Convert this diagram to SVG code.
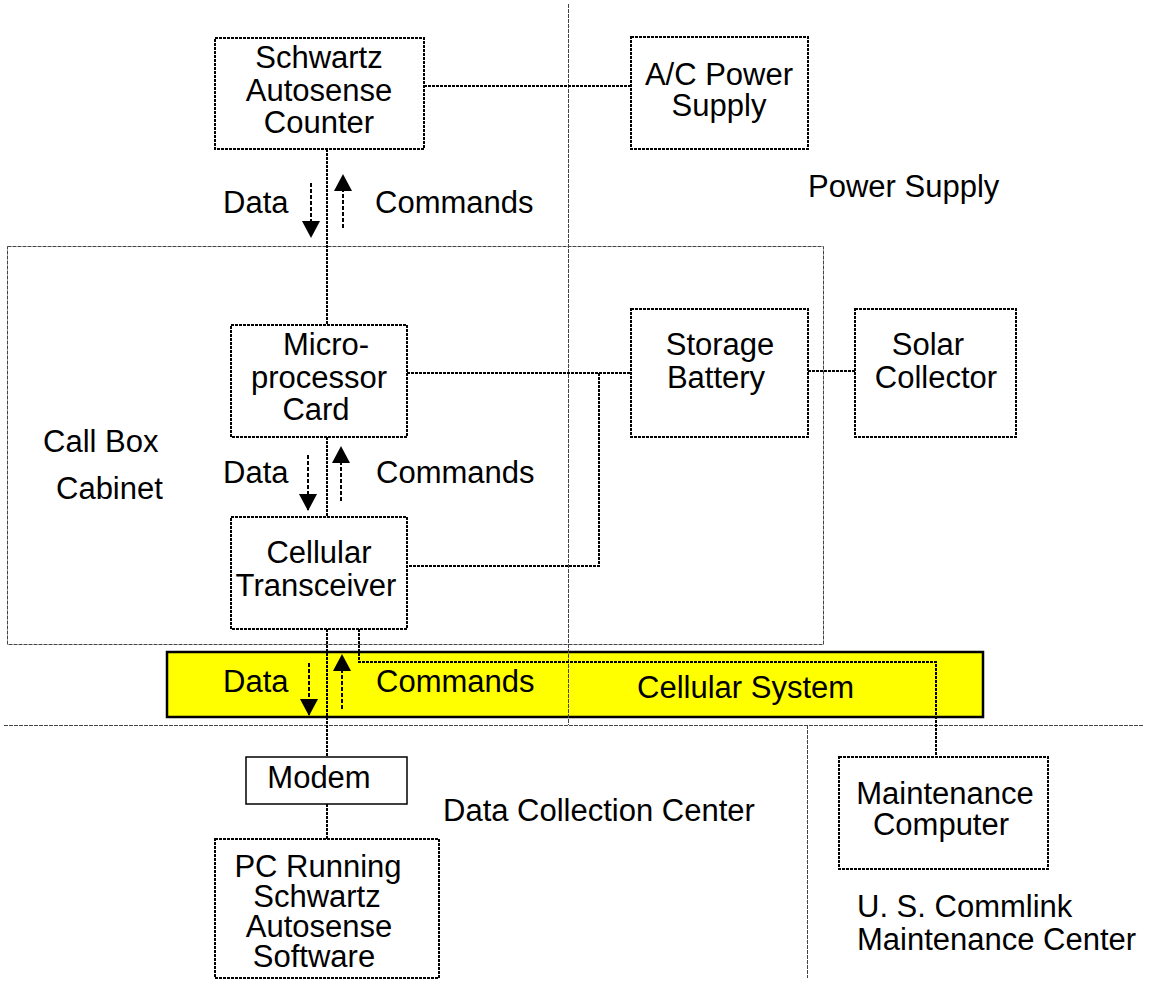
<svg xmlns="http://www.w3.org/2000/svg" width="1153" height="981" viewBox="0 0 1153 981">
<style>
text{font-family:"Liberation Sans",Arial,sans-serif;font-size:31px;fill:#000}
.m{text-anchor:middle}
.box{fill:#fff;stroke:#000;stroke-width:2;stroke-dasharray:3 1}
.conn{fill:none;stroke:#000;stroke-width:2;stroke-dasharray:3 1}
.guide{fill:none;stroke:#444;stroke-width:1;stroke-dasharray:4 1}
.arr{fill:none;stroke:#000;stroke-width:2;stroke-dasharray:4 2;marker-end:url(#ah)}
</style>
<defs>
<marker id="ah" markerUnits="userSpaceOnUse" markerWidth="20" markerHeight="20" refX="16" refY="9" orient="auto">
<path d="M0,0 L17,9 L0,18 z" fill="#000"/>
</marker>
</defs>
<g id="cabinet">
<rect x="7.5" y="246.5" width="816" height="398" class="guide"/>
<text x="43" y="452">Call Box</text>
<text x="56" y="499">Cabinet</text>
</g>
<g id="cellular-system">
<rect x="167" y="652" width="816" height="65" fill="#ffff00" stroke="#000" stroke-width="2.5"/>
<text x="637" y="698">Cellular System</text>
</g>
<g id="guides">
<line x1="568.5" y1="4" x2="568.5" y2="725" class="guide"/>
<line x1="4" y1="725.5" x2="1143" y2="725.5" class="guide"/>
<line x1="807.5" y1="725" x2="807.5" y2="978" class="guide"/>
</g>
<g id="connectors">
<line x1="424" y1="86" x2="631" y2="86" class="conn"/>
<line x1="327" y1="149" x2="327" y2="325" class="conn"/>
<line x1="327" y1="437" x2="327" y2="517" class="conn"/>
<line x1="407" y1="373" x2="631" y2="373" class="conn"/>
<polyline points="599,373 599,566 407,566" class="conn"/>
<line x1="808" y1="371" x2="855" y2="371" class="conn"/>
<line x1="327" y1="629" x2="327" y2="757" class="conn"/>
<polyline points="359,629 359,662 936,662 936,757" class="conn"/>
<line x1="327" y1="804" x2="327" y2="839" class="conn"/>
<line x1="311" y1="183" x2="311" y2="237" class="arr"/>
<line x1="343" y1="228" x2="343" y2="175" class="arr"/>
<line x1="308" y1="455" x2="308" y2="510" class="arr"/>
<line x1="341" y1="501" x2="341" y2="447" class="arr"/>
<line x1="309" y1="663" x2="309" y2="715" class="arr"/>
<line x1="342" y1="709" x2="342" y2="655" class="arr"/>
</g>
<g id="labels">
<text x="223" y="213">Data</text>
<text x="375" y="213">Commands</text>
<text x="223" y="483">Data</text>
<text x="376" y="483">Commands</text>
<text x="223" y="692">Data</text>
<text x="376" y="692">Commands</text>
<text x="808" y="197">Power Supply</text>
<text x="443" y="821">Data Collection Center</text>
<text x="857" y="917">U. S. Commlink</text>
<text x="857" y="950">Maintenance Center</text>
</g>
<g id="counter">
<rect x="215" y="38" width="209" height="111" class="box"/>
<text class="m" x="319" y="68">Schwartz</text>
<text class="m" x="319" y="101">Autosense</text>
<text class="m" x="319" y="133">Counter</text>
</g>
<g id="ac-power">
<rect x="631" y="37" width="177" height="112" class="box"/>
<text class="m" x="719" y="85">A/C Power</text>
<text class="m" x="719" y="116">Supply</text>
</g>
<g id="micro">
<rect x="231" y="325" width="176" height="112" class="box"/>
<text class="m" x="326" y="355">Micro-</text>
<text class="m" x="319" y="388">processor</text>
<text class="m" x="316" y="420">Card</text>
</g>
<g id="transceiver">
<rect x="231" y="517" width="176" height="112" class="box"/>
<text class="m" x="319" y="563">Cellular</text>
<text class="m" x="316" y="596">Transceiver</text>
</g>
<g id="battery">
<rect x="631" y="309" width="177" height="128" class="box"/>
<text class="m" x="720" y="355">Storage</text>
<text class="m" x="716" y="388">Battery</text>
</g>
<g id="solar">
<rect x="855" y="309" width="161" height="128" class="box"/>
<text class="m" x="928" y="355">Solar</text>
<text class="m" x="936" y="388">Collector</text>
</g>
<g id="modem">
<rect x="246" y="757" width="161" height="47" fill="#fff" stroke="#000" stroke-width="1.5"/>
<text class="m" x="319" y="788">Modem</text>
</g>
<g id="pc">
<rect x="215" y="839" width="224" height="139" class="box"/>
<text class="m" x="318" y="877">PC Running</text>
<text class="m" x="317" y="907">Schwartz</text>
<text class="m" x="319" y="937">Autosense</text>
<text class="m" x="314" y="967">Software</text>
</g>
<g id="maintenance">
<rect x="839" y="757" width="209" height="112" class="box"/>
<text class="m" x="945" y="804">Maintenance</text>
<text class="m" x="941" y="835">Computer</text>
</g>
</svg>
